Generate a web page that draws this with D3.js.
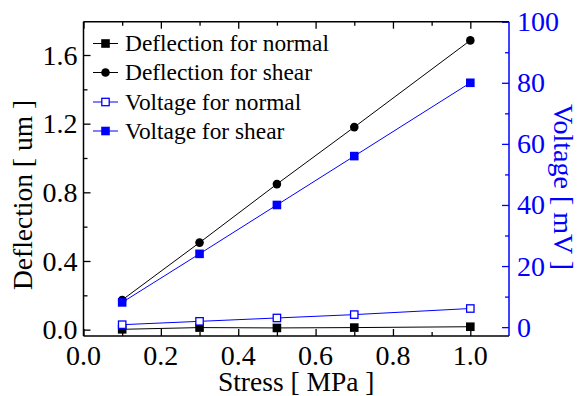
<!DOCTYPE html>
<html>
<head>
<meta charset="utf-8">
<script src="https://cdn.jsdelivr.net/npm/d3@7"></script>
<style>
  html, body { margin: 0; padding: 0; background: #fff; }
</style>
</head>
<body>
<svg id="chart" width="578" height="396"></svg>
<script>
// Applied stress (MPa)
const stress = [0.1, 0.3, 0.5, 0.7, 1.0];
// Deflection (um)
const deflectionNormal = [0.002, 0.012, 0.010, 0.012, 0.017];
const deflectionShear = [0.173, 0.507, 0.848, 1.18, 1.685];
// Output voltage (mV)
const voltageNormal = [0.8, 1.9, 3.0, 4.1, 6.1];
const voltageShear = [8.1, 24, 40, 56, 80];

const xTicks = [0.0, 0.2, 0.4, 0.6, 0.8, 1.0];
const leftTicks = [0.0, 0.4, 0.8, 1.2, 1.6];
const rightTicks = [0, 20, 40, 60, 80, 100];

const BLUE = "#0000ff";
const FONT = "Liberation Serif";
const svg = d3.select("#chart");
const L = 83.5, R = 509, T = 21.7, B = 336;

const x = d3.scaleLinear().domain([0, 1.1]).range([L, R]);
const yL = d3.scaleLinear().domain([-0.037, 1.794]).range([B, T]);
const yR = d3.scaleLinear().domain([-2.9, 100]).range([B, T]);

const MAJ = 7, MIN = 4;

function label(sel, size) {
  return sel.attr("font-family", FONT).style("font-family", FONT).attr("font-size", size);
}

// inward-pointing major and minor ticks for one side of the frame
function tickAxis(axisFn, scale, major, minor, g, color) {
  [[minor, MIN], [major, MAJ]].forEach(([vals, len]) => {
    g.append("g").call(axisFn(scale).tickValues(vals).tickSize(len).tickFormat(""))
      .call(s => s.select(".domain").remove())
      .call(s => s.selectAll("line").attr("stroke", color).attr("stroke-width", 1.3));
  });
}

// bottom axis
const gB = svg.append("g").attr("transform", `translate(0,${B})`);
tickAxis(d3.axisTop, x, xTicks, [0.1, 0.3, 0.5, 0.7, 0.9], gB, "#000");
label(gB.selectAll(".xl").data(xTicks).enter().append("text"), 28)
  .attr("x", d => x(d)).attr("y", 29).attr("text-anchor", "middle")
  .text(d => d3.format(".1f")(d));

// top axis (mirror)
const gT = svg.append("g").attr("transform", `translate(0,${T})`);
tickAxis(d3.axisBottom, x, xTicks, [0.1, 0.3, 0.5, 0.7, 0.9], gT, "#000");

// left axis
const gL = svg.append("g").attr("transform", `translate(${L},0)`);
tickAxis(d3.axisRight, yL, leftTicks, [0.2, 0.6, 1.0, 1.4], gL, "#000");
label(gL.selectAll(".yl").data(leftTicks).enter().append("text"), 28)
  .attr("x", -6).attr("y", d => yL(d)).attr("dy", "0.34em").attr("text-anchor", "end")
  .text(d => d3.format(".1f")(d));

// right axis (blue)
const gR = svg.append("g").attr("transform", `translate(${R},0)`);
tickAxis(d3.axisLeft, yR, rightTicks, [10, 30, 50, 70, 90], gR, BLUE);
label(gR.selectAll(".yr").data(rightTicks).enter().append("text"), 28)
  .attr("x", 8).attr("y", d => yR(d)).attr("dy", "0.34em").attr("text-anchor", "start")
  .attr("fill", BLUE).text(d => d);

// frame
[[L, B, R, B, "#000"], [L, T, R, T, "#000"], [L, T, L, B, "#000"], [R, T, R, B, BLUE]].forEach(([x1, y1, x2, y2, c]) => {
  svg.append("line").attr("x1", x1).attr("y1", y1).attr("x2", x2).attr("y2", y2)
    .attr("stroke", c).attr("stroke-width", 1.5);
});

// axis titles
label(svg.append("text"), 27.5).attr("x", (L + R) / 2).attr("y", 391).attr("text-anchor", "middle")
  .text("Stress [ MPa ]");
label(svg.append("text"), 27.5).attr("transform", `translate(32,195) rotate(-90)`).attr("text-anchor", "middle")
  .text("Deflection [ um ]");
label(svg.append("text"), 28).attr("transform", `translate(554,187) rotate(90)`).attr("text-anchor", "middle")
  .attr("fill", BLUE).text("Voltage [ mV ]");

// series
const series = [
  { name: "Deflection for normal", vals: deflectionNormal, y: yL, color: "#000", marker: "square", fill: "#000" },
  { name: "Deflection for shear", vals: deflectionShear, y: yL, color: "#000", marker: "circle", fill: "#000" },
  { name: "Voltage for normal", vals: voltageNormal, y: yR, color: BLUE, marker: "square", fill: "#fff" },
  { name: "Voltage for shear", vals: voltageShear, y: yR, color: BLUE, marker: "square", fill: BLUE }
];

function drawMarker(g, s, cx, cy) {
  if (s.marker === "circle") {
    g.append("circle").attr("cx", cx).attr("cy", cy).attr("r", 4.3).attr("fill", s.fill);
  } else if (s.fill === "#fff") {
    g.append("rect").attr("x", cx - 3.7).attr("y", cy - 3.7).attr("width", 7.4).attr("height", 7.4)
      .attr("fill", "#fff").attr("stroke", s.color).attr("stroke-width", 1.3);
  } else {
    g.append("rect").attr("x", cx - 4.3).attr("y", cy - 4.3).attr("width", 8.6).attr("height", 8.6)
      .attr("fill", s.fill);
  }
}

series.forEach(s => {
  const pts = stress.map((v, i) => [x(v), s.y(s.vals[i])]);
  const g = svg.append("g");
  g.append("path").attr("d", d3.line()(pts)).attr("fill", "none")
    .attr("stroke", s.color).attr("stroke-width", 1);
  pts.forEach(p => drawMarker(g, s, p[0], p[1]));
});

// legend
const legY = [43.5, 72.5, 102, 131];
series.forEach((s, i) => {
  const g = svg.append("g");
  g.append("line").attr("x1", 93).attr("x2", 118).attr("y1", legY[i]).attr("y2", legY[i])
    .attr("stroke", s.color).attr("stroke-width", 1);
  drawMarker(g, s, 105.5, legY[i]);
  label(g.append("text"), 23.4).attr("x", 125).attr("y", legY[i]).attr("dy", "0.33em")
    .text(s.name);
});
</script>
</body>
</html>
